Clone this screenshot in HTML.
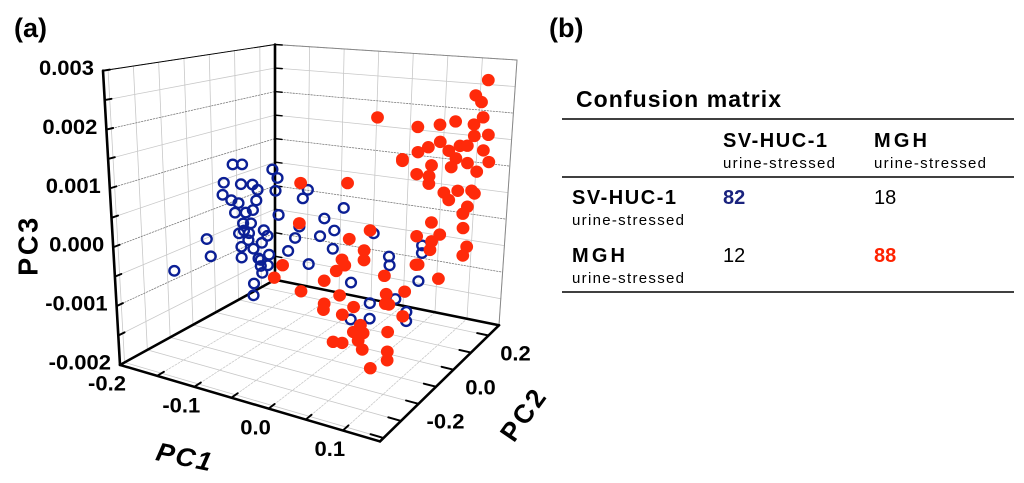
<!DOCTYPE html>
<html><head><meta charset="utf-8"><style>
html,body{margin:0;padding:0;background:#fff;}
svg{display:block;font-family:"Liberation Sans",sans-serif;}
</style></head><body>
<svg id="fig" width="1024" height="483" viewBox="0 0 1024 483" xmlns="http://www.w3.org/2000/svg">
<text x="14" y="37" font-size="27" font-weight="bold">(a)</text>
<text x="549" y="37" font-size="27" font-weight="bold">(b)</text>
<g id="plot" transform="scale(1,0.968)">
<g id="grid"></g>
<g id="axes"></g>
<g id="labels"></g>
<g id="pts"></g>
<text x="28" y="255" font-size="28" font-weight="bold" text-anchor="middle" dominant-baseline="central" textLength="60" transform="rotate(-90 28 255)">PC3</text>
<text x="184" y="472" font-size="27" font-weight="bold" font-style="italic" text-anchor="middle" dominant-baseline="central" textLength="56" transform="rotate(12 184 472)">PC1</text>
<text x="523" y="429" font-size="27" font-weight="bold" text-anchor="middle" dominant-baseline="central" textLength="58" transform="rotate(-55 523 429)">PC2</text>
</g>
<g id="table">
<text x="576" y="107" font-size="23" font-weight="bold" textLength="205">Confusion matrix</text>
<line x1="562" y1="119" x2="1014" y2="119" stroke="#000" stroke-width="1.5"/>
<line x1="562" y1="177" x2="1014" y2="177" stroke="#000" stroke-width="1.5"/>
<line x1="562" y1="292" x2="1014" y2="292" stroke="#000" stroke-width="1.5"/>
<text x="723" y="147" font-size="20" font-weight="bold" textLength="104">SV-HUC-1</text>
<text x="723" y="168" font-size="15" textLength="112">urine-stressed</text>
<text x="874" y="147" font-size="20" font-weight="bold" textLength="53">MGH</text>
<text x="874" y="168" font-size="15" textLength="112">urine-stressed</text>
<text x="572" y="204" font-size="20" font-weight="bold" textLength="104">SV-HUC-1</text>
<text x="572" y="225" font-size="15" textLength="112">urine-stressed</text>
<text x="572" y="262" font-size="20" font-weight="bold" textLength="53">MGH</text>
<text x="572" y="283" font-size="15" textLength="112">urine-stressed</text>
<text x="723" y="204" font-size="20" font-weight="bold" fill="#1a237e">82</text>
<text x="874" y="204" font-size="20">18</text>
<text x="723" y="262" font-size="20">12</text>
<text x="874" y="262" font-size="20" font-weight="bold" fill="#ff2200">88</text>
</g>
</svg>
<script>
// PC2 for all points taken as -0.08 (mid-depth); PC3 values in units of 1e-3
const blueP1=[-0.144,-0.131,-0.157,-0.133,-0.117,-0.110,-0.159,-0.147,-0.137,-0.112,-0.142,-0.127,-0.117,-0.131,-0.120,-0.137,-0.123,-0.102,-0.097,-0.134,-0.117,-0.105,-0.110,-0.095,-0.134,-0.097,-0.107,-0.105,-0.117,-0.118,-0.183,-0.178,-0.231,-0.089,-0.082,-0.085,-0.081,-0.040,-0.047,0.010,-0.017,-0.003,-0.052,-0.058,-0.023,-0.005,-0.068,-0.039,0.052,0.074,0.075,0.120,0.120,0.116,0.021,0.048,0.048,0.021,0.084,0.100,0.100,-0.124,-0.130,-0.107];
const blueP3=[1.11,1.14,0.74,0.77,0.80,0.72,0.51,0.44,0.41,0.52,0.22,0.26,0.33,0.05,0.08,-0.15,-0.11,0.00,-0.09,-0.39,-0.38,-0.24,-0.54,-0.43,-0.59,-0.63,-0.67,-0.79,-1.02,-1.24,-0.38,-0.69,-1.12,1.14,1.00,0.76,0.33,0.88,0.71,0.67,0.42,0.24,0.19,-0.03,0.09,-0.09,-0.29,-0.45,0.32,-0.03,-0.18,0.27,0.14,-0.35,-0.62,-0.91,-1.18,-1.27,-0.74,-0.92,-1.08,-0.24,-0.08,-0.56];
const redP1=[0.203,0.187,0.195,0.055,0.110,0.140,0.161,0.186,0.198,0.187,0.206,0.125,0.141,0.111,0.090,0.153,0.168,0.178,0.200,0.208,0.163,0.179,0.130,0.157,0.110,0.127,0.127,0.192,0.148,0.167,0.186,0.155,0.190,0.181,0.175,0.132,0.176,0.144,0.112,0.133,0.131,0.182,0.177,0.112,0.144,-0.050,0.015,-0.052,0.047,0.018,0.039,0.039,0.008,0.012,0.000,-0.076,-0.088,-0.017,-0.050,0.005,0.068,0.071,0.097,0.070,0.075,-0.017,-0.018,0.025,0.009,0.035,0.025,0.039,0.032,0.074,-0.004,0.009,0.038,0.074,0.074,0.050,0.095,0.115,0.090];
const redP3=[3.22,2.94,2.84,2.35,2.28,2.37,2.46,2.45,2.59,2.26,2.31,1.96,2.08,1.85,1.66,1.95,2.06,2.08,2.04,1.86,1.84,1.79,1.66,1.68,1.47,1.47,1.34,1.67,1.23,1.30,1.34,1.12,1.30,1.06,0.93,0.69,0.69,0.51,0.41,0.37,0.22,0.39,0.23,-0.08,-0.24,0.98,1.12,0.25,0.36,0.14,-0.01,-0.18,-0.25,-0.34,-0.47,-0.57,-0.83,-0.69,-0.97,-0.89,-0.38,-0.69,-0.58,-0.86,-0.86,-1.10,-1.21,-1.04,-1.22,-1.33,-1.48,-1.46,-1.61,-1.34,-1.74,-1.72,-1.75,-1.68,-1.83,-2.04,-1.01,-0.07,1.69];
const pc2Depth=-0.08;
const pc1Ticks=["-0.2","-0.1","0.0","0.1"];
const pc2Ticks=["-0.2","0.0","0.2"];
const pc3Ticks=["-0.002","-0.001","0.000","0.001","0.002","0.003"];

const NS="http://www.w3.org/2000/svg";
const X1=[-0.2,0.15],X2=[-0.42,0.26],X3=[-2,3];
const FL={L:[120,377],F:[380,456],R:[499,336],B:[275,289]};
const TP={L:[103,73],F:[380,121],R:[517,62],B:[275,46]};
function bil(c,u,v){return [0,1].map(i=>c.L[i]*(1-u)*(1-v)+c.F[i]*u*(1-v)+c.R[i]*u*v+c.B[i]*(1-u)*v);}
function proj(u,v,w){const b=bil(FL,u,v),t=bil(TP,u,v);return [b[0]+(t[0]-b[0])*w,b[1]+(t[1]-b[1])*w];}
const su=p=>(p-X1[0])/(X1[1]-X1[0]);
const sv=p=>(p-X2[0])/(X2[1]-X2[0]);
const sw=p=>(p-X3[0])/(X3[1]-X3[0]);
function line(g,a,b,stroke,sw_,dash){const l=document.createElementNS(NS,'line');
l.setAttribute('x1',a[0]);l.setAttribute('y1',a[1]);l.setAttribute('x2',b[0]);l.setAttribute('y2',b[1]);
l.setAttribute('stroke',stroke);l.setAttribute('stroke-width',sw_);if(dash)l.setAttribute('stroke-dasharray',dash);
l.setAttribute('stroke-linecap','round');


g.appendChild(l);return l;}
const grid=document.getElementById('grid'),axes=document.getElementById('axes'),labs=document.getElementById('labels'),pts=document.getElementById('pts');
const gc='#c8c8c8',dc='#777';
for(let p=-0.2;p<=0.1501;p+=0.05){const u=su(p);line(grid,proj(u,1,0),proj(u,1,1),gc,0.8);line(grid,proj(u,0,0),proj(u,1,0),gc,0.8,'2,1.5');}
for(let p=-0.4;p<=0.2501;p+=0.1){const v=sv(p);line(grid,proj(0,v,0),proj(0,v,1),gc,0.8);line(grid,proj(0,v,0),proj(1,v,0),gc,0.8);}
for(let p=-2;p<=3.01;p+=0.5){const w=sw(p);const major=Math.abs(p-Math.round(p))<0.01;
line(grid,proj(0,0,w),proj(0,1,w),major?dc:gc,0.8,major?'1.5,1.5':null);line(grid,proj(0,1,w),proj(1,1,w),major?dc:gc,0.8,major?'1.5,1.5':null);}
line(axes,proj(0,0,1),proj(0,1,1),'#000',1);line(axes,proj(0,1,1),proj(1,1,1),'#888',1);line(axes,proj(1,1,0),proj(1,1,1),'#888',1);
[[[0,0,0],[0,0,1]],[[0,1,0],[0,1,1]],[[0,0,0],[0,1,0]],[[0,1,0],[1,1,0]],[[0,0,0],[1,0,0]],[[1,0,0],[1,1,0]]].forEach(e=>line(axes,proj(...e[0]),proj(...e[1]),'#000',2.6));
for(let p=-0.2;p<=0.1501;p+=0.05){const u=su(p);line(axes,proj(u,0,0),proj(u,0.045,0),'#000',2);}
for(let p=-0.4;p<=0.2501;p+=0.1){const v=sv(p);line(axes,proj(1,v,0),proj(0.95,v,0),'#000',2);}
for(let p=-2;p<=3.01;p+=0.5){const w=sw(p);line(axes,proj(0,0,w),proj(0,0.04,w),'#000',2);line(axes,proj(0,1,w),proj(0.03,1,w),'#000',1.5);}
function txt(x,y,s,anchor,name){const t=document.createElementNS(NS,'text');t.setAttribute('x',x);t.setAttribute('y',y);
t.setAttribute('font-size','22');t.setAttribute('font-weight','bold');t.setAttribute('text-anchor',anchor);t.setAttribute('dominant-baseline','central');
t.textContent=s;


labs.appendChild(t);}
pc1Ticks.forEach(s=>{const q=proj(su(parseFloat(s)),0,0);txt(q[0]-13,q[1]+19,s,'middle','pc1-tick-label');});
pc2Ticks.forEach(s=>{const q=proj(1,sv(parseFloat(s)),0);txt(q[0]+27,q[1]+18,s,'middle','pc2-tick-label');});
pc3Ticks.forEach(s=>{const q=proj(0,0,sw(parseFloat(s)*1000));txt(q[0]-9,q[1]-3,s,'end','pc3-tick-label');});
const v0=sv(pc2Depth);
blueP1.forEach((p,i)=>{const q=proj(su(p),v0,sw(blueP3[i]));const c=document.createElementNS(NS,'circle');
c.setAttribute('cx',q[0]);c.setAttribute('cy',q[1]);c.setAttribute('r',4.9);c.setAttribute('fill','none');c.setAttribute('stroke','#0b1f95');c.setAttribute('stroke-width',2.4);


pts.appendChild(c);});
redP1.forEach((p,i)=>{const q=proj(su(p),v0,sw(redP3[i]));const c=document.createElementNS(NS,'circle');
c.setAttribute('cx',q[0]);c.setAttribute('cy',q[1]);c.setAttribute('r',6.4);c.setAttribute('fill','#ff2a0a');


pts.appendChild(c);});
</script>
</body></html>
